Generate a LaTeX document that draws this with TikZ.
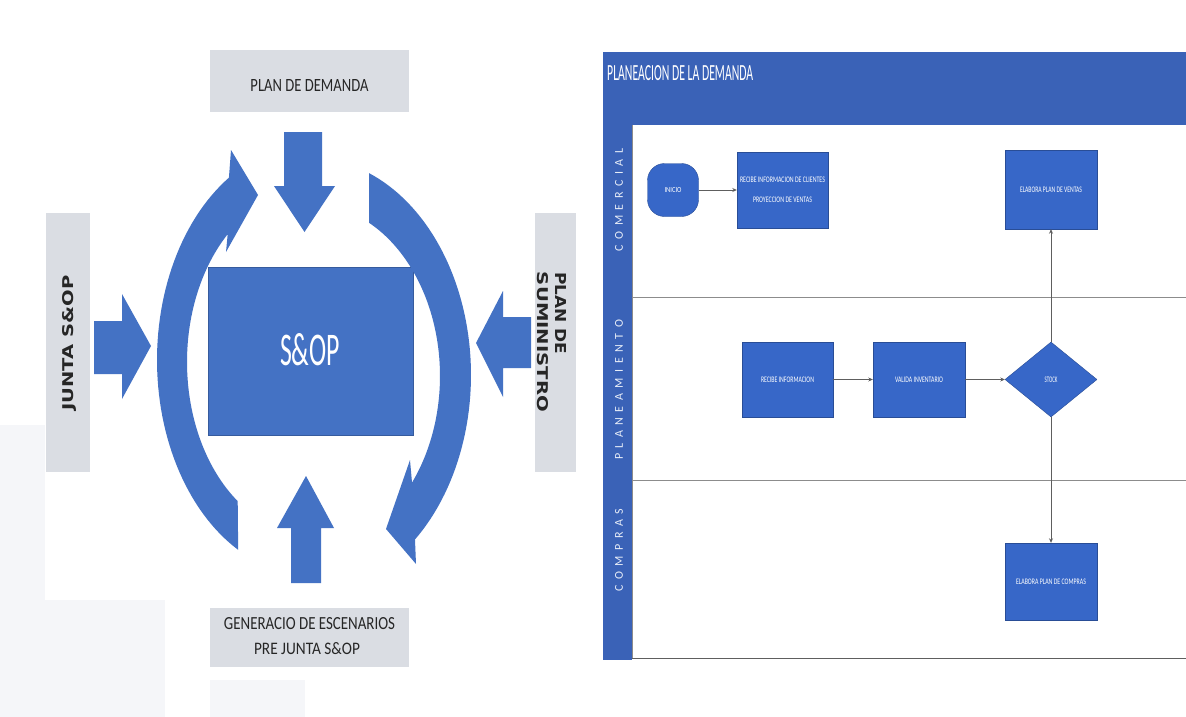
\documentclass[tikz,border=0pt]{standalone}
\usepackage{fontspec}
\setmainfont{Carlito}
\newfontfamily\dejavu{DejaVu Sans}
\usepackage{graphicx}
\usetikzlibrary{shapes.geometric,arrows.meta}
\definecolor{sopblue}{HTML}{4472C4}
\definecolor{laneblue}{HTML}{3767C8}
\definecolor{headblue}{HTML}{3A62B7}
\definecolor{boxgray}{HTML}{DADDE3}
\definecolor{linegray}{HTML}{5E5E5E}
\definecolor{lanegray}{HTML}{8C8C8C}
\definecolor{wmark}{HTML}{F5F6F9}
\definecolor{darktext}{HTML}{262626}
\newcommand\fitbox[3]{\resizebox{#1pt}{#2pt}{#3}}
\makeatletter
\newcommand\lspread[2]{\def\ls@k{#1}\@tfor\ls@c:=#2\do{\ls@c\kern\ls@k}\unkern}
\makeatother
\begin{document}
\begin{tikzpicture}[x=1pt,y=-1pt,
  graybox/.style={fill=boxgray, draw=none, inner sep=0pt},
  graytext/.style={text=darktext, inner sep=0pt},
  sidetext/.style={text=darktext, inner sep=0pt, font=\dejavu\bfseries},
  blockarrow/.style={fill=sopblue, draw=none},
  procbox/.style={rectangle, fill=laneblue, draw=laneblue!75!black, line width=0.4pt, inner sep=0pt, text=white},
  flowarrow/.style={draw=linegray, line width=0.8pt, -{Stealth[length=4.5pt,width=4pt]}},
  lanetext/.style={text=white!88!laneblue, rotate=90, inner sep=0pt, font=\fontsize{12}{12}\selectfont},
  tinytext/.style={text=white, inner sep=0pt}
]
\useasboundingbox (0,0) rectangle (1186,717);
\fill[white] (0,0) rectangle (1186,717);
% faint background marks
\fill[wmark] (0,425) rectangle (45,600);
\fill[wmark] (0,600) rectangle (165,717);
\fill[wmark] (210,680) rectangle (305,717);

% ---------------- left: S&OP cycle ----------------
\node[graybox, minimum width=199pt, minimum height=62pt] (pd) at (309.5,81) {};
\node[graytext] (pdt) at (309.5,86) {\fitbox{118}{12}{PLAN DE DEMANDA}};

\node[graybox, minimum width=199pt, minimum height=59pt] (gen) at (309.5,637.5) {};
\node[graytext] (gen1) at (309.5,624) {\fitbox{171}{12}{GENERACIO DE ESCENARIOS}};
\node[graytext] (gen2) at (307,649) {\fitbox{106}{12}{PRE JUNTA S\&OP}};

\node[graybox, minimum width=44pt, minimum height=259pt] (junta) at (68,342.5) {};
\node[sidetext, rotate=90] (juntat) at (69,343) {\fitbox{135}{11}{JUNTA S\&OP}};

\node[graybox, minimum width=41pt, minimum height=259pt] (sum) at (555.5,342.5) {};
\node[sidetext, rotate=-90] (sum1) at (561,313) {\fitbox{82}{11}{PLAN DE}};
\node[sidetext, rotate=-90] (sum2) at (543,342) {\fitbox{140}{11}{SUMINISTRO}};

\node[rectangle, fill=sopblue, draw=sopblue!80!black, line width=0.5pt,
      minimum width=205pt, minimum height=168pt, inner sep=0pt] (sop) at (310.5,351) {};
\node[text=white, inner sep=0pt] (sopt) at (310,350) {\fitbox{60}{32}{S\&OP}};

% straight block arrows
\fill[blockarrow] (284,132) -- (322,132) -- (322,186) -- (335,186) -- (304.5,232) -- (274,186) -- (284,186) -- cycle;
\fill[blockarrow] (291,583) -- (321,583) -- (321,528) -- (334,528) -- (306,476) -- (277,528) -- (291,528) -- cycle;
\fill[blockarrow] (94,321) -- (122,321) -- (122,294) -- (151,346) -- (122,399) -- (122,374) -- (94,374) -- cycle;
\fill[blockarrow] (531,317) -- (503,317) -- (503,291) -- (476,343) -- (503,397) -- (503,368) -- (531,368) -- cycle;

% curved arrows
\fill[blockarrow] plot[domain=118:238, samples=60] ({310+153*cos(\x)},{360+215*sin(\x)})
  -- (231,150) -- (258,195) -- (226,252)
  -- plot[domain=228:126, samples=60] ({310+123*cos(\x)},{362+172*sin(\x)}) -- cycle;
\fill[blockarrow] plot[domain=-68.5:49.3, samples=60] ({310+161*cos(\x)},{375+217*sin(\x)})
  -- (416,564) -- (386,529) -- (410,460)
  -- plot[domain=38.3:-63, samples=60] ({310+130*cos(\x)},{376+172*sin(\x)}) -- cycle;

% ---------------- right: swimlane ----------------
\fill[headblue] (603,52) rectangle (1186,125);
\fill[headblue] (603,125) rectangle (632,660);
\draw[lanegray, line width=0.6pt] (632,125) -- (632,658);
\draw[lanegray, line width=0.6pt] (632,297) -- (1186,297);
\draw[lanegray, line width=0.6pt] (632,480) -- (1186,480);
\draw[linegray, line width=1pt] (632,658) -- (1186,658);

\node[text=white, inner sep=0pt, anchor=west] (title) at (607,73) {\fitbox{146}{15}{PLANEACION DE LA DEMANDA}};

\node[lanetext] (lane1) at (619,200) {\lspread{5.5pt}{COMERCIAL}};
\node[lanetext] (lane2) at (619,390) {\lspread{5.5pt}{PLANEAMIENTO}};
\node[lanetext] (lane3) at (619,550) {\lspread{5.5pt}{COMPRAS}};

\node[procbox, rounded corners=17pt, minimum width=51pt, minimum height=53pt] (inicio) at (673,190) {\fitbox{17}{5}{INICIO}};
\node[procbox, minimum width=91pt, minimum height=76pt] (recibe1) at (782.5,190) {};
\node[tinytext] (recibe1a) at (782.5,180) {\fitbox{85}{5.5}{RECIBE INFORMACION DE CLIENTES}};
\node[tinytext] (recibe1b) at (782.5,200) {\fitbox{59}{5.5}{PROYECCION DE VENTAS}};
\node[procbox, minimum width=92pt, minimum height=79pt] (ventas) at (1051,189.5) {\fitbox{62}{5.5}{ELABORA PLAN DE VENTAS}};
\node[procbox, minimum width=91pt, minimum height=75pt] (recibe2) at (787.5,379.5) {\fitbox{53}{5.5}{RECIBE INFORMACION}};
\node[procbox, minimum width=92pt, minimum height=75pt] (valida) at (919,379.5) {\fitbox{48}{5.5}{VALIDA INVENTARIO}};
\node[procbox, diamond, minimum width=92pt, minimum height=75pt] (stock) at (1051,379.5) {\fitbox{13}{5.5}{STOCK}};
\node[procbox, minimum width=92pt, minimum height=77pt] (compras) at (1051,581.5) {\fitbox{70}{5.5}{ELABORA PLAN DE COMPRAS}};

\draw[flowarrow] (inicio) -- (recibe1);
\draw[flowarrow] (recibe2) -- (valida);
\draw[flowarrow] (valida) -- (stock);
\draw[flowarrow] (stock) -- (ventas);
\draw[flowarrow] (stock) -- (compras);
\end{tikzpicture}
\end{document}
